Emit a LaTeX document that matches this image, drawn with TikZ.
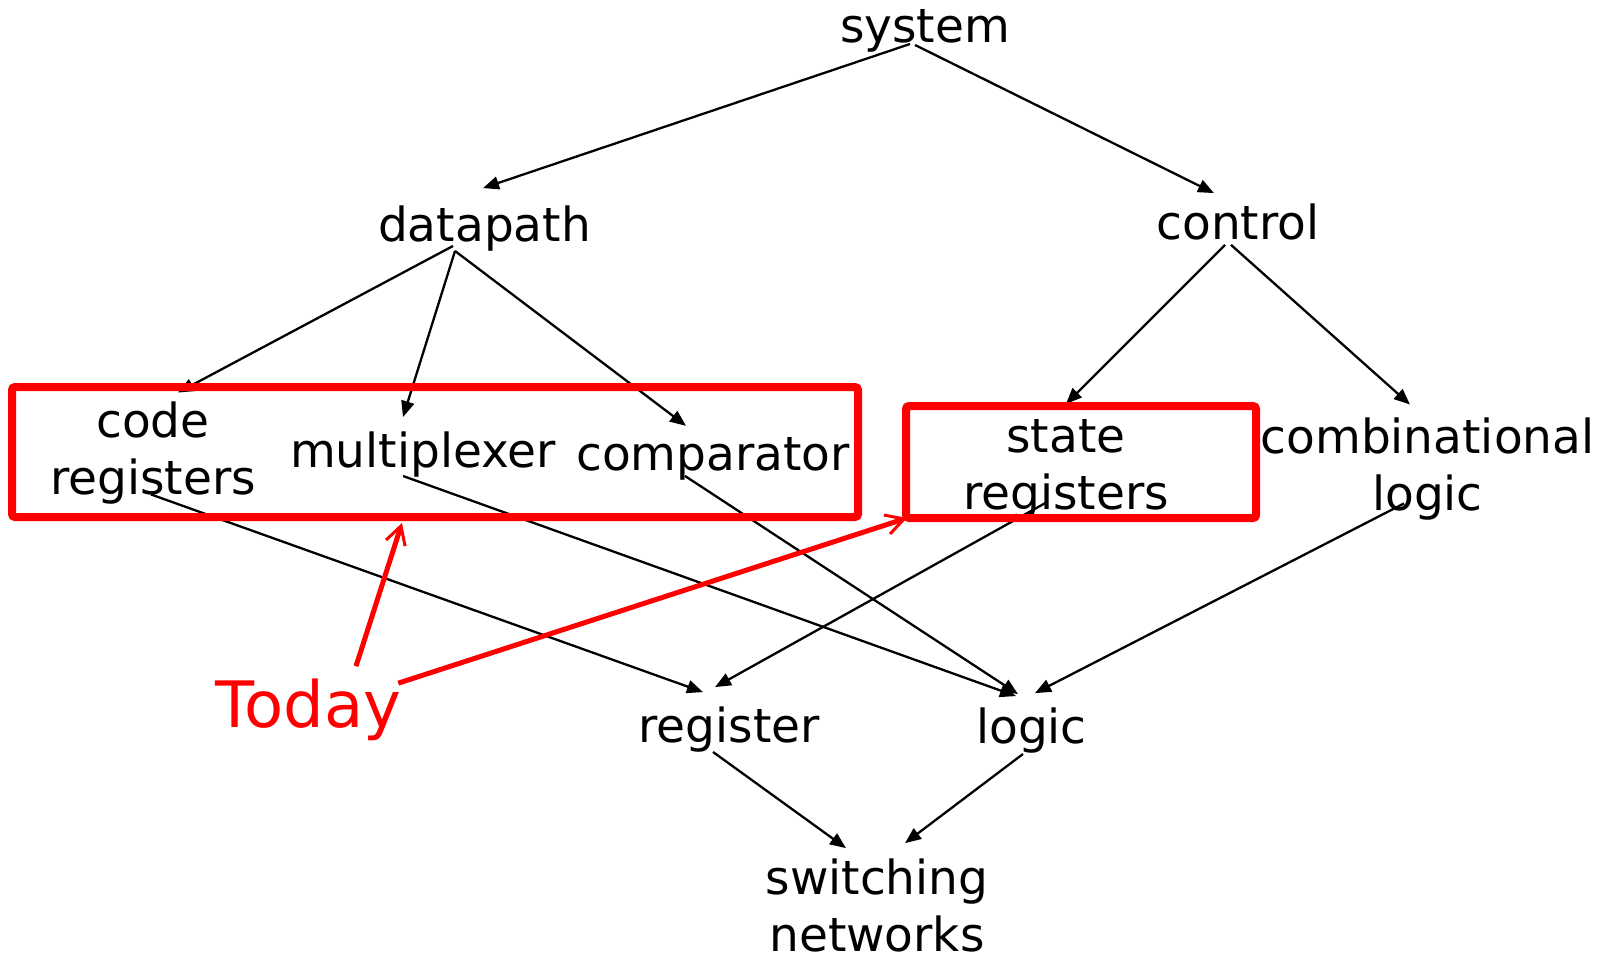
\documentclass[tikz,border=0pt]{standalone}
\usepackage{fontspec}
\setmainfont{DejaVu Sans}
\usepackage{tikz}
\usetikzlibrary{arrows.meta, positioning}
\tikzstyle{word} = [inner sep = 0pt, anchor = base, font = \fontsize{47}{57}\selectfont]
\tikzstyle{words} = [inner sep = 0pt, align = center, font = \fontsize{47}{57}\selectfont]
\tikzstyle{today} = [inner sep = 0pt, anchor = base, text = red, font = \fontsize{64}{72}\selectfont]
\tikzstyle{link} = [draw, line width = 2.3pt, -{Triangle[length = 16pt, width = 13pt]}]
\tikzstyle{hibox} = [draw = red, line width = 8pt, rounded corners = 3pt, inner sep = 0pt]
\tikzstyle{hiline} = [draw = red, line width = 5pt, -{Straight Barb[length = 18pt, width = 20pt, line width = 3pt]}]

\begin{document}
\begin{tikzpicture}[x = 1pt, y = -1pt]
			\useasboundingbox (0, 0) rectangle (1608, 962);
			\node [word] (sys) at (925, 42) {system};
			\node [word] (dp) at (484.5, 241) {datapath};
			\node [word] (ctl) at (1238, 239) {control};
			\node [words] (code) at (153, 453) {code\\registers};
			\node [word] (mux) at (423, 467) {multiplexer};
			\node [word] (cmp) at (713, 470) {comparator};
			\node [words] (state) at (1066, 469) {state\\registers};
			\node [words] (comb) at (1427.5, 469) {combinational\\logic};
			\node [word] (reg) at (729, 742) {register};
			\node [word] (logic) at (1031.5, 743) {logic};
			\node [words] (sw) at (877, 905) {switching\\networks};
			\node [today] (today) at (308.5, 727) {Today};
			
			\path [link] ([xshift = -15pt, yshift = 8pt]sys.south) -- ([xshift = -1.5pt, yshift = 17pt]dp.north);
			\path [link] ([xshift = -10pt, yshift = 7pt]sys.south) -- ([xshift = -24pt, yshift = 10pt]ctl.north);
			\path [link] ([xshift = -31.5pt, yshift = 5pt]dp.south) -- ([xshift = 25pt, yshift = 9pt]code.north);
			\path [link] ([xshift = -29.5pt]dp.south) -- ([xshift = -20pt, yshift = 14pt]mux.north);
			\path [link] ([xshift = -29.5pt]dp.south) -- ([xshift = -27pt, yshift = 11pt]cmp.north);
			\path [link] ([xshift = -13pt, yshift = -5pt]ctl.south) -- ([yshift = 15pt]state.north);
			\path [link] ([xshift = -7pt, yshift = -5pt]ctl.south) -- ([xshift = -17.5pt, yshift = 13pt]comb.north);
			\path [link] ([xshift = -2pt, yshift = 10pt]code.south) -- ([xshift = -26pt, yshift = 14pt]reg.north);
			\path [link] ([xshift = -20pt, yshift = 1pt]mux.south) -- ([xshift = -15.5pt, yshift = 11pt]logic.north);
			\path [link] ([xshift = -28pt, yshift = 4pt]cmp.south) -- ([xshift = -13.5pt, yshift = 13pt]logic.north);
			\path [link] ([xshift = -19pt, yshift = 17pt]state.south) -- ([xshift = -14pt, yshift = 19pt]reg.north);
			\path [link] ([xshift = -23.5pt, yshift = 17pt]comb.south) -- ([xshift = 3.5pt, yshift = 14pt]logic.north);
			\path [link] ([xshift = -16pt]reg.south) -- ([xshift = -31pt, yshift = 10pt]sw.north);
			\path [link] ([xshift = -8.5pt, yshift = -1pt]logic.south) -- ([xshift = 28pt, yshift = 15pt]sw.north);
			
			% highlighted groups
			\node [hibox, minimum width = 846pt, minimum height = 130pt] (dpbox) at (435, 452) {};
			\node [hibox, minimum width = 350pt, minimum height = 112pt] (stbox) at (1081, 462) {};
			\path [hiline] ([xshift = 47.5pt, yshift = 12pt]today.north) -- ([xshift = -33pt, yshift = -2pt]dpbox.south);
			\path [hiline] ([xshift = -3pt, yshift = -5pt]today.north east) -- ([xshift = 5pt, yshift = 4pt]stbox.south west);
		\end{tikzpicture}
\end{document}
